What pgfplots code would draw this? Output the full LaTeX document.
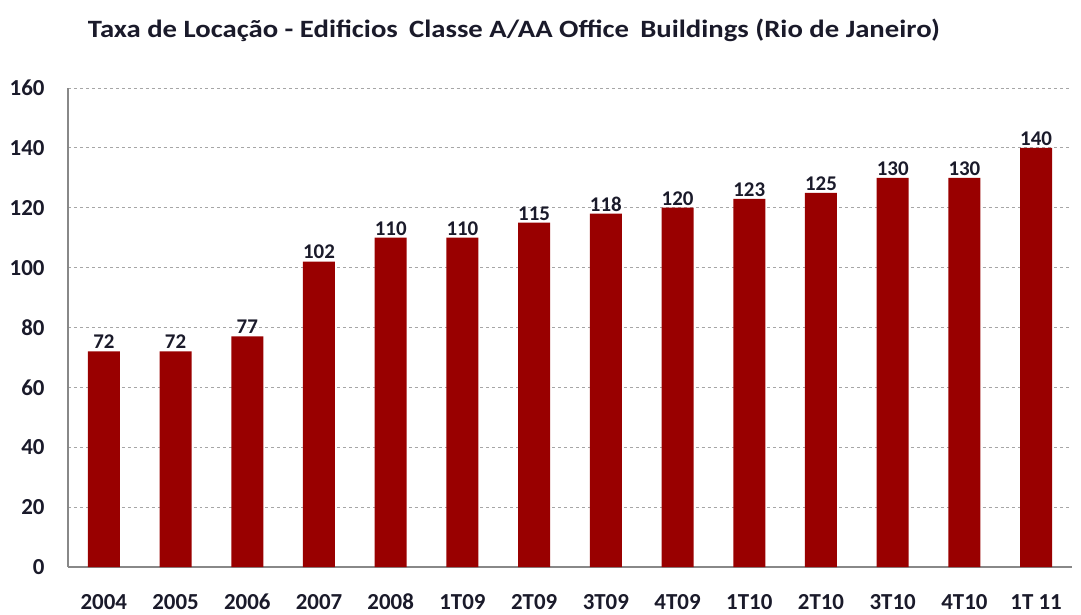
\documentclass[border=0pt]{standalone}
\usepackage{pgfplots}
\pgfplotsset{compat=1.18}
\usepackage{graphicx}
\usepackage{fontspec}
\setmainfont{Carlito}
\definecolor{barred}{HTML}{990000}
\definecolor{axgray}{HTML}{888888}
\definecolor{gridgray}{HTML}{A6A6A6}
\definecolor{txt}{HTML}{1A1A2A}
\begin{document}
\begin{tikzpicture}
\path[use as bounding box] (0,0) rectangle (1081bp,615bp);
\node[inner sep=0pt, font=\fontsize{25}{30}\selectfont\bfseries, text=txt] at (514bp,585bp) {\resizebox{852bp}{\height}{Taxa de Locação - Edificios\, Classe A/AA Office\, Buildings (Rio de Janeiro)}};
\begin{axis}[
  at={(68bp,48bp)}, anchor=south west,
  scale only axis, width=1004bp, height=479bp,
  xmin=-0.5, xmax=13.5, ymin=0, ymax=160,
  ytick={0,20,...,160},
  xtick={0,...,13},
  xticklabels={2004,2005,2006,2007,2008,1T09,2T09,3T09,4T09,1T10,2T10,3T10,4T10,1T 11},
  axis x line*=bottom, axis y line*=left,
  axis line style={axgray, line width=1.2pt, -},
  major tick length=0pt,
  ymajorgrids, grid style={gridgray, dashed, line width=0.8pt},
  tick label style={font=\fontsize{23}{27}\selectfont\bfseries, text=txt},
  /pgf/number format/assume math mode=true,
  yticklabel style={xshift=-20bp},
  xticklabel style={anchor=base, yshift=-42bp, inner sep=0pt},
  ybar, bar width=32bp,
  nodes near coords,
  every node near coord/.append style={font=\fontsize{21}{25}\selectfont\bfseries, text=txt, yshift=-1bp},
  clip=false,
]
\addplot[fill=barred, draw=none] coordinates {
(0,72) (1,72) (2,77) (3,102) (4,110) (5,110) (6,115) (7,118) (8,120) (9,123) (10,125) (11,130) (12,130) (13,140)
};
\end{axis}
\end{tikzpicture}
\end{document}
